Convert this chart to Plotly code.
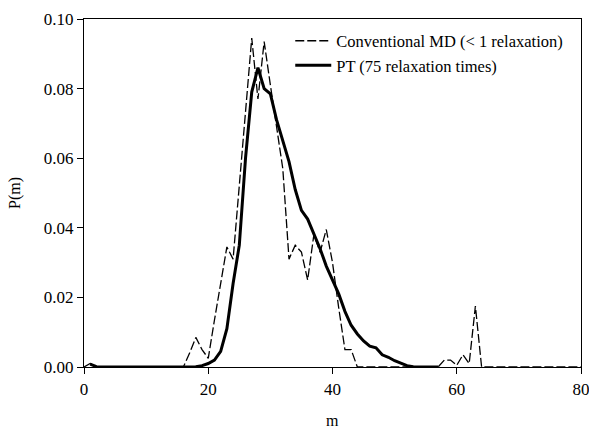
import plotly.graph_objects as go

# Conventional MD (< 1 relaxation), P(m) for m = 0..80
md_m = list(range(0, 81))
md_p = [
    0.0, 0.001, 0.0, 0.0, 0.0, 0.0, 0.0, 0.0, 0.0, 0.0,
    0.0, 0.0, 0.0, 0.0, 0.0, 0.0, 0.0, 0.004, 0.0085, 0.005,
    0.0025, 0.0135, 0.024, 0.0345, 0.031, 0.052, 0.073, 0.0945, 0.077, 0.0935,
    0.081, 0.069, 0.057, 0.031, 0.035, 0.033, 0.025, 0.038, 0.033, 0.0395,
    0.030, 0.017, 0.005, 0.005, 0.0, 0.0, 0.0, 0.0, 0.0, 0.0,
    0.0, 0.0, 0.0, 0.0, 0.0, 0.0, 0.0, 0.0, 0.002, 0.002,
    0.0005, 0.0035, 0.001, 0.0175, 0.0, 0.0, 0.0, 0.0, 0.0, 0.0,
    0.0, 0.0, 0.0, 0.0, 0.0, 0.0, 0.0, 0.0, 0.0, 0.0,
    0.0,
]

# PT (75 relaxation times), P(m) for m = 1..57
pt_m = list(range(1, 58))
pt_p = [
    0.0008, 0.0001, 0.0, 0.0, 0.0, 0.0, 0.0, 0.0, 0.0, 0.0,
    0.0, 0.0, 0.0, 0.0, 0.0, 0.0, 0.0, 0.0001, 0.0004, 0.001,
    0.002, 0.0045, 0.011, 0.024, 0.035, 0.060, 0.079, 0.086, 0.080, 0.0785,
    0.071, 0.065, 0.059, 0.051, 0.045, 0.0425, 0.0385, 0.034, 0.029, 0.025,
    0.021, 0.016, 0.012, 0.0095, 0.0075, 0.006, 0.0055, 0.0035, 0.0028, 0.0018,
    0.001, 0.0004, 0.0001, 0.0, 0.0, 0.0, 0.0,
]

x_ticks = [0, 20, 40, 60, 80]
y_ticks = [0.0, 0.02, 0.04, 0.06, 0.08, 0.10]

FONT = "Times New Roman, Liberation Serif, DejaVu Serif, serif"

fig = go.Figure()
fig.add_trace(go.Scatter(
    x=md_m, y=md_p, mode="lines", name="Conventional MD (< 1 relaxation)",
    line=dict(color="black", width=1.3, dash="9px,3px"),
))
fig.add_trace(go.Scatter(
    x=pt_m, y=pt_p, mode="lines", name="PT (75 relaxation times)",
    line=dict(color="black", width=3),
))

axis_style = dict(
    showline=True, linecolor="black", linewidth=1.2, mirror=True,
    ticks="outside", ticklen=6, tickwidth=1.2, tickcolor="black",
    showgrid=False, zeroline=False, ticklabeloverflow="allow",
    tickfont=dict(family=FONT, size=17, color="black"),
)

fig.update_layout(
    width=600, height=429,
    margin=dict(l=84, r=10, t=18, b=62),
    paper_bgcolor="white", plot_bgcolor="white",
    font=dict(family=FONT, size=17, color="black"),
    showlegend=True,
    legend=dict(
        x=0.415, y=0.987, xanchor="left", yanchor="top",
        bgcolor="rgba(0,0,0,0)", borderwidth=0,
        font=dict(family=FONT, size=16.5, color="black"),
        tracegroupgap=0, itemwidth=36,
    ),
    xaxis=dict(range=[0, 80], tickvals=x_ticks, ticktext=[str(v) for v in x_ticks], **axis_style),
    yaxis=dict(range=[0, 0.10], tickvals=y_ticks, ticktext=[f"{v:.2f}" for v in y_ticks], **axis_style),
    annotations=[
        dict(text="m", xref="paper", yref="paper", x=0.5, y=0, yshift=-53,
             xanchor="center", yanchor="middle",
             showarrow=False, font=dict(family=FONT, size=16)),
        dict(text="P(m)", xref="paper", yref="paper", x=0, y=0.5, xshift=-69,
             xanchor="center", yanchor="middle",
             textangle=-90, showarrow=False, font=dict(family=FONT, size=16)),
    ],
)

# drop the default body margin so the figure sits at the window's corner
fig.write_html(
    "out.html",
    config={"displayModeBar": False},
    post_script="document.body.style.margin = '0';",
)
